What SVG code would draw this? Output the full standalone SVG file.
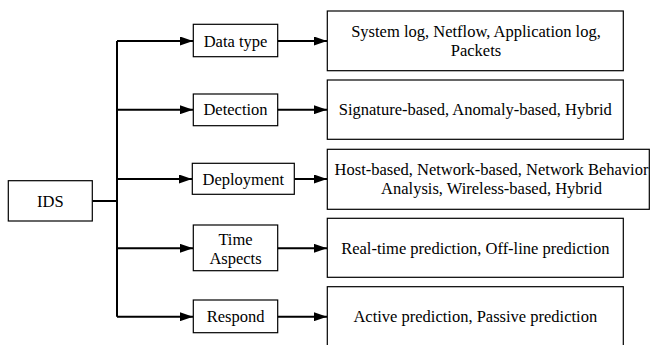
<svg xmlns="http://www.w3.org/2000/svg" width="651" height="345" viewBox="0 0 651 345">
  <style>
    .box { fill: #ffffff; stroke: #000000; stroke-width: 1.2; }
    .lbl { font-family: "Liberation Serif", serif; font-size: 16.5px; fill: #000000; text-anchor: middle; }
    .wire { fill: none; stroke: #000000; stroke-width: 2; }
  </style>
  <defs>
    <marker id="arrow" markerWidth="13" markerHeight="9" refX="13" refY="4.5" orient="auto" markerUnits="userSpaceOnUse">
      <path d="M0,0 L13,4.5 L0,9 Z" fill="#000000"/>
    </marker>
  </defs>
  <rect width="651" height="345" fill="#ffffff"/>

  <!-- connectors -->
  <g id="connectors">
    <path class="wire" d="M92.3,201 H117 M117,41 V316.7"/>
    <path class="wire" d="M117,41 H193" marker-end="url(#arrow)"/>
    <path class="wire" d="M117,109.7 H193" marker-end="url(#arrow)"/>
    <path class="wire" d="M117,179 H192" marker-end="url(#arrow)"/>
    <path class="wire" d="M117,248.3 H193" marker-end="url(#arrow)"/>
    <path class="wire" d="M117,316.7 H193" marker-end="url(#arrow)"/>
    <path class="wire" d="M277.7,41 H327" marker-end="url(#arrow)"/>
    <path class="wire" d="M277.7,109.7 H327" marker-end="url(#arrow)"/>
    <path class="wire" d="M294.3,179 H327" marker-end="url(#arrow)"/>
    <path class="wire" d="M277.7,248.3 H327" marker-end="url(#arrow)"/>
    <path class="wire" d="M277.7,316.7 H327" marker-end="url(#arrow)"/>
  </g>

  <!-- root -->
  <g id="ids">
    <rect class="box" x="8.3" y="180.7" width="84" height="40.3"/>
    <text class="lbl" x="50.3" y="206.5">IDS</text>
  </g>

  <!-- categories -->
  <g id="data-type">
    <rect class="box" x="193.3" y="24.3" width="84.4" height="32.4"/>
    <text class="lbl" x="235.5" y="46.5">Data type</text>
  </g>
  <g id="detection">
    <rect class="box" x="193.3" y="94" width="84.4" height="31.7"/>
    <text class="lbl" x="235.5" y="115.3">Detection</text>
  </g>
  <g id="deployment">
    <rect class="box" x="192.3" y="163.3" width="102" height="31"/>
    <text class="lbl" x="243.3" y="184.5">Deployment</text>
  </g>
  <g id="time-aspects">
    <rect class="box" x="193.3" y="225" width="84.4" height="45.7"/>
    <text class="lbl" x="235.5" y="244.5">Time</text>
    <text class="lbl" x="235.5" y="263.8">Aspects</text>
  </g>
  <g id="respond">
    <rect class="box" x="193.3" y="300" width="84.4" height="32.7"/>
    <text class="lbl" x="235.5" y="322.2">Respond</text>
  </g>

  <!-- details -->
  <g id="data-type-detail">
    <rect class="box" x="327.3" y="11" width="296" height="59.7"/>
    <text class="lbl" x="476" y="37.2">System log, Netflow, Application log,</text>
    <text class="lbl" x="476" y="56.2">Packets</text>
  </g>
  <g id="detection-detail">
    <rect class="box" x="327.3" y="80" width="296" height="59.3"/>
    <text class="lbl" x="475.3" y="115.3">Signature-based, Anomaly-based, Hybrid</text>
  </g>
  <g id="deployment-detail">
    <rect class="box" x="327.3" y="149.3" width="322" height="60"/>
    <text class="lbl" x="491.5" y="174.8">Host-based, Network-based, Network Behavior</text>
    <text class="lbl" x="491.5" y="193.8">Analysis, Wireless-based, Hybrid</text>
  </g>
  <g id="time-aspects-detail">
    <rect class="box" x="327.3" y="218.3" width="296" height="59"/>
    <text class="lbl" x="475.3" y="253.5">Real-time prediction, Off-line prediction</text>
  </g>
  <g id="respond-detail">
    <rect class="box" x="327.3" y="286.7" width="296" height="70"/>
    <text class="lbl" x="475.3" y="322.2">Active prediction, Passive prediction</text>
  </g>
</svg>
